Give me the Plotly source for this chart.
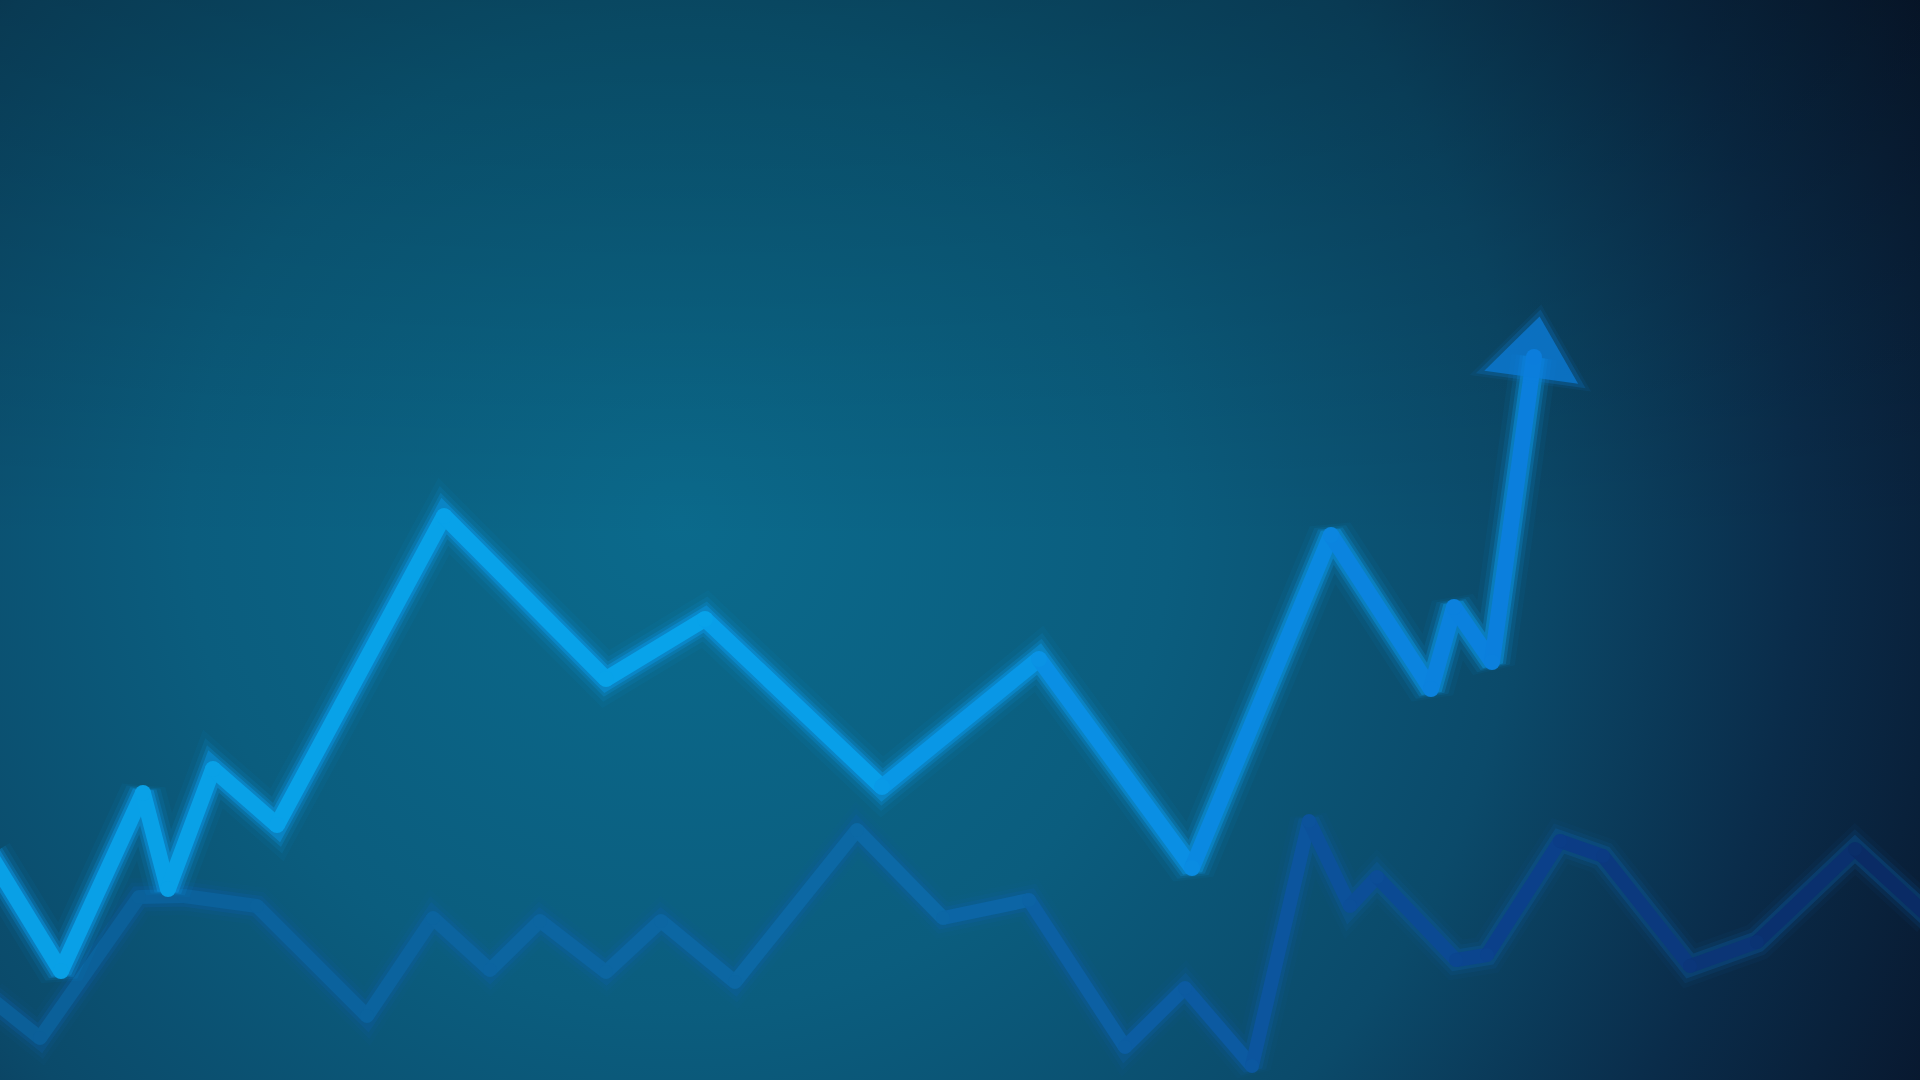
import base64
import plotly.graph_objects as go

# ---- data (x position, value) ----
main_x = [-10, 61, 143, 168, 213, 277, 444, 606, 705, 882, 1039, 1192, 1331, 1431, 1454, 1492, 1534]
main_v = [225, 109, 287, 191, 311, 255, 564, 401, 461, 293, 421, 212, 545, 391, 473, 418, 723]

sub_x = [-10, 40, 139, 184, 257, 367, 433, 490, 540, 606, 661, 735, 857, 943, 1029, 1125, 1185,
         1252, 1309, 1350, 1377, 1456, 1487, 1560, 1603, 1690, 1757, 1855, 1930]
sub_v = [82, 42, 183, 184, 174, 64, 162, 110, 159, 108, 159, 98, 250, 162, 180, 33, 92,
         14, 259, 174, 203, 120, 125, 239, 224, 114, 138, 231, 162]

# ---- styling ----
MAIN_STOPS = [(0, "#09a0e6"), (700, "#08a3ea"), (1100, "#0a90e4"), (1560, "#0b7ddc")]
SUB_STOPS = [(0, "#0b5f98"), (900, "#0c69a6"), (1250, "#0c58a0"), (1550, "#0b3e88"), (1920, "#0a2a62")]


def hex2rgb(h):
    h = h.lstrip("#")
    return tuple(int(h[i:i + 2], 16) for i in (0, 2, 4))


def color_at(x, stops):
    if x <= stops[0][0]:
        return stops[0][1]
    for (x0, c0), (x1, c1) in zip(stops, stops[1:]):
        if x0 <= x <= x1:
            t = (x - x0) / (x1 - x0)
            a, b = hex2rgb(c0), hex2rgb(c1)
            r = [round(a[i] + (b[i] - a[i]) * t) for i in range(3)]
            return "#%02x%02x%02x" % tuple(r)
    return stops[-1][1]


svg = '''<svg xmlns="http://www.w3.org/2000/svg" width="1920" height="1080" viewBox="0 0 1920 1080">
<defs>
<radialGradient id="g" gradientUnits="userSpaceOnUse" cx="680" cy="520" r="1400">
<stop offset="0" stop-color="#0b6a8c"/>
<stop offset="0.35" stop-color="#0b5d7e"/>
<stop offset="0.6" stop-color="#0b4a6a"/>
<stop offset="0.8" stop-color="#0a2c4a"/>
<stop offset="1" stop-color="#08162c"/>
</radialGradient>
<linearGradient id="t" x1="0" y1="0" x2="0" y2="1">
<stop offset="0" stop-color="#000" stop-opacity="0.22"/>
<stop offset="0.5" stop-color="#000" stop-opacity="0"/>
</linearGradient>
</defs>
<rect width="1920" height="1080" fill="url(#g)"/>
<rect width="1920" height="1080" fill="url(#t)"/>
</svg>'''
bg_uri = "data:image/svg+xml;base64," + base64.b64encode(svg.encode()).decode()

fig = go.Figure()


def add_glow(xs, vs, color, layers):
    for w, op in layers:
        fig.add_trace(go.Scatter(x=xs, y=vs, mode="lines", opacity=op,
                                 line=dict(color=color, width=w, shape="linear"),
                                 hoverinfo="skip", showlegend=False))


def add_core(xs, vs, stops, width, opacity=1.0):
    n = len(xs)
    for i in range(n - 1):
        c = color_at((xs[i] + xs[i + 1]) / 2, stops)
        fig.add_trace(go.Scatter(
            x=[xs[i], xs[i + 1]], y=[vs[i], vs[i + 1]], mode="lines",
            line=dict(color=c, width=width), opacity=opacity,
            hoverinfo="skip", showlegend=False))
    fig.add_trace(go.Scatter(
        x=xs, y=vs, mode="markers", opacity=opacity,
        marker=dict(size=width, color=[color_at(x, stops) for x in xs], line=dict(width=0)),
        hoverinfo="skip", showlegend=False))


def add_arrow(xs, vs, color, size, glow):
    for extra, op in glow:
        fig.add_trace(go.Scatter(
            x=xs[-2:], y=vs[-2:], mode="markers", opacity=op,
            marker=dict(symbol="triangle-up", size=[0, size + extra], angleref="previous",
                        color=color, line=dict(width=0)),
            hoverinfo="skip", showlegend=False))


# secondary (background) line
add_glow(sub_x, sub_v, "#0c5ea8", [(38, 0.06), (29, 0.13), (21, 0.28)])
add_core(sub_x, sub_v, SUB_STOPS, 14)

# main line
add_glow(main_x, main_v, "#0a98e8", [(46, 0.06), (36, 0.12), (28, 0.24), (22, 0.45)])
add_core(main_x, main_v, MAIN_STOPS, 16)
add_arrow(main_x, main_v, "#0b7ddc", 82, [(24, 0.12), (14, 0.3), (0, 1.0)])

fig.update_layout(
    width=1920, height=1080,
    margin=dict(l=0, r=0, t=0, b=0),
    paper_bgcolor="#0a3a58",
    plot_bgcolor="rgba(0,0,0,0)",
    xaxis=dict(range=[0, 1920], visible=False, fixedrange=True),
    yaxis=dict(range=[0, 1080], visible=False, fixedrange=True),
    images=[dict(source=bg_uri, xref="paper", yref="paper", x=0, y=1,
                 sizex=1, sizey=1, sizing="stretch", layer="below",
                 xanchor="left", yanchor="top")],
    showlegend=False,
)

fig.write_html("out.html", config={"displayModeBar": False},
               post_script="document.body.style.margin='0';document.body.style.overflow='hidden';")
